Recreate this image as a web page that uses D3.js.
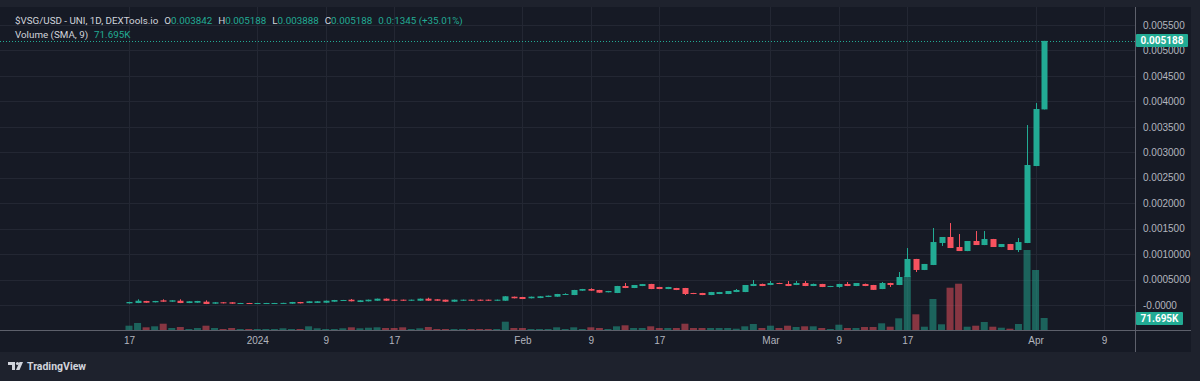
<!DOCTYPE html>
<html>
<head>
<meta charset="utf-8">
<script src="https://cdn.jsdelivr.net/npm/d3@7"></script>
<style>
  body { margin: 0; background: #1e222d; }
  svg { display: block; font-family: Roboto, "Noto Sans", sans-serif; }
</style>
</head>
<body>
<svg id="chart" width="1200" height="381"></svg>
<script>
/// Daily candles from 17 Dec 2023 to 2 Apr 2024, prices in millionths of a dollar
var firstDay = Date.UTC(2023, 11, 17);
var opens = [33,39,79,53,92,65,84,39,45,65,26,53,53,26,39,26,26,28,30,26,59,39,41,45,65,84,104,59,
  73,84,124,104,104,84,84,124,112,104,65,84,104,104,104,84,84,163,157,132,137,157,163,202,196,281,314,295,250,
  236,373,334,373,413,354,314,334,334,236,236,196,216,216,255,255,373,413,393,432,413,393,432,373,413,354,354,413,373,413,393,314,432,
  393,550,904,688,786,1218,1336,1139,1060,1257,1178,1296,1139,1198,1080,1218,2730,3842];
var highs = [63,112,82,81,112,94,112,75,81,92,55,57,55,41,41,41,41,41,43,61,61,75,77,86,100,100,118,94,
  106,126,128,106,106,106,126,143,114,106,106,106,106,106,106,106,173,165,159,165,173,185,218,230,297,316,328,297,277,
  375,432,393,413,415,356,356,336,336,238,238,257,257,275,314,393,491,420,471,436,471,471,471,420,415,375,415,452,432,420,395,452,436,
  648,1119,906,806,1512,1336,1610,1394,1257,1453,1453,1298,1198,1200,1316,3535,3967,5188];
var lows = [30,37,43,51,63,63,37,37,43,18,24,31,24,24,24,24,24,24,26,24,31,37,39,43,63,82,71,57,
  71,82,82,82,82,82,82,82,82,63,63,82,82,82,82,82,82,130,116,130,135,155,161,200,194,279,279,240,248,
  234,332,332,371,312,312,312,293,196,214,194,194,214,214,253,253,371,371,391,411,371,391,371,371,352,352,340,371,371,371,295,312,354,
  391,548,648,686,784,1159,1119,1060,1058,1178,1176,1139,1137,1080,1040,1216,2728,3842];
var closes = [59,84,45,79,65,92,39,73,79,20,53,33,26,39,26,39,39,39,41,59,33,73,73,84,98,98,73,92,
  104,124,84,84,84,104,124,84,84,65,104,104,84,84,84,104,171,132,118,163,171,183,216,216,295,314,281,242,275,
  373,334,393,411,314,314,354,295,216,216,196,255,255,275,295,393,413,373,432,413,373,432,373,413,354,373,413,373,432,373,297,432,393,
  550,904,688,806,1237,1336,1119,1060,1257,1178,1296,1139,1198,1080,1237,2750,3850,5188];
/// Volume in thousands
var volumes = [25.7,41.8,16.1,22.1,37.6,12.0,17.9,6.0,12.0,25.7,12.0,6.0,12.0,6.0,6.0,6.0,6.0,6.0,10.2,6.0,6.0,22.1,10.2,6.0,6.0,10.2,16.1,10.2,
  13.7,16.1,12.0,12.0,16.1,6.0,10.2,17.9,6.0,6.0,6.0,6.0,6.0,6.0,6.0,6.0,49.6,12.0,12.0,6.0,6.0,6.0,16.1,6.0,16.1,6.0,16.1,12.0,6.0,
  22.1,28.1,12.0,12.0,22.1,12.0,12.0,12.0,37.6,12.0,12.0,12.0,12.0,12.0,7.8,22.1,35.9,12.0,25.7,12.0,25.7,17.9,22.1,22.1,12.0,6.0,31.7,12.0,12.0,17.9,17.9,40.0,19.7,
  69.9,322.7,93.8,19.7,185.2,34.1,252.7,276.6,19.7,25.7,47.8,19.7,13.7,7.8,35.9,478.0,358.5,71.7];

var priceTicks = [0, 500, 1000, 1500, 2000, 2500, 3000, 3500, 4000, 4500, 5000, 5500];
var priceTickLabels = ["-0.0000", "0.0005000", "0.0010000", "0.001500", "0.002000", "0.002500",
  "0.003000", "0.003500", "0.004000", "0.004500", "0.005000", "0.005500"];
var dateTicks = ["2023-12-17", "2024-01-01", "2024-01-09", "2024-01-17", "2024-02-01", "2024-02-09",
  "2024-02-17", "2024-03-01", "2024-03-09", "2024-03-17", "2024-04-01", "2024-04-09"];
var dateTickLabels = ["17", "2024", "9", "17", "Feb", "9", "17", "Mar", "9", "17", "Apr", "9"];
var legendLabels = ["O", "H", "L", "C", ""];
var legendValues = ["0.003842", "0.005188", "0.003888", "0.005188", "0.0:1345 (+35.01%)"];
var lastPrice = 5188;
var lastVolumeLabel = "71.695K";

/// layout
var plotRight = 1135, plotTop = 7, plotBottom = 330, axisBottom = 352, frameRight = 1191;
var green = "#22ab94", red = "#f7525f", gridColor = "#232733", textColor = "#b2b5be";

var data = opens.map(function(o, i) {
  return { date: new Date(firstDay + i * 864e5), open: o, high: highs[i], low: lows[i], close: closes[i], volume: volumes[i] };
});

var svg = d3.select("#chart");

/// chart frame
svg.append("rect").attr("x", 0).attr("y", plotTop).attr("width", frameRight).attr("height", axisBottom - plotTop)
  .attr("fill", "#161a25");

var x = d3.scaleUtc()
  .domain([new Date(firstDay), new Date(Date.UTC(2024, 3, 9))])
  .range([129, 1104]);
var y = d3.scaleLinear().domain([0, 5500]).range([305, 25]);
var yVol = d3.scaleLinear().domain([0, d3.max(volumes)]).range([plotBottom, plotBottom - 80]);

var parseDay = d3.utcParse("%Y-%m-%d");

/// grid lines
svg.append("g").selectAll("line").data(priceTicks).enter().append("line")
  .attr("x1", 0).attr("x2", plotRight)
  .attr("y1", d => Math.round(y(d)) + 0.5).attr("y2", d => Math.round(y(d)) + 0.5)
  .attr("stroke", gridColor);
svg.append("g").selectAll("line").data(dateTicks).enter().append("line")
  .attr("x1", d => Math.round(x(parseDay(d))) + 0.5).attr("x2", d => Math.round(x(parseDay(d))) + 0.5)
  .attr("y1", plotTop).attr("y2", plotBottom)
  .attr("stroke", gridColor);

/// volume bars
svg.append("g").selectAll("rect").data(data).enter().append("rect")
  .attr("x", d => x(d.date) - 3.5)
  .attr("width", 7)
  .attr("y", d => yVol(d.volume))
  .attr("height", d => plotBottom - yVol(d.volume))
  .attr("fill", d => d.close >= d.open ? green : red)
  .attr("fill-opacity", 0.5);

/// last price line
svg.append("line")
  .attr("x1", 0).attr("x2", plotRight)
  .attr("y1", Math.round(y(lastPrice)) + 0.5).attr("y2", Math.round(y(lastPrice)) + 0.5)
  .attr("stroke", green).attr("stroke-dasharray", "1,2");

/// candles
var candles = svg.append("g").selectAll("g").data(data).enter().append("g");
candles.append("line")
  .attr("x1", d => Math.round(x(d.date)) + 0.5).attr("x2", d => Math.round(x(d.date)) + 0.5)
  .attr("y1", d => y(d.high)).attr("y2", d => y(d.low))
  .attr("stroke", d => d.close >= d.open ? green : red);
candles.append("rect")
  .attr("x", d => Math.round(x(d.date)) - 2.5)
  .attr("width", 6)
  .attr("y", d => y(Math.max(d.open, d.close)))
  .attr("height", d => Math.max(1, Math.abs(y(d.open) - y(d.close))))
  .attr("fill", d => d.close >= d.open ? green : red);

/// axes
var rightAxis = d3.axisRight(y).tickValues(priceTicks).tickFormat((d, i) => priceTickLabels[i]).tickSize(0).tickPadding(8);
var gy = svg.append("g").attr("transform", `translate(${plotRight},0)`).call(rightAxis);
gy.select(".domain").remove();
gy.selectAll("text").attr("fill", textColor).attr("font-size", 10).attr("font-family", null);

var bottomAxis = d3.axisBottom(x).tickValues(dateTicks.map(parseDay)).tickFormat((d, i) => dateTickLabels[i]).tickSize(0).tickPadding(7);
var gx = svg.append("g").attr("transform", `translate(0,${plotBottom})`).call(bottomAxis);
gx.select(".domain").remove();
gx.selectAll("text").attr("fill", textColor).attr("font-size", 10).attr("font-family", null);

svg.append("line").attr("x1", 0).attr("x2", frameRight).attr("y1", plotBottom + 0.5).attr("y2", plotBottom + 0.5).attr("stroke", "#5d606b");
svg.append("line").attr("x1", plotRight + 0.5).attr("x2", plotRight + 0.5).attr("y1", plotTop).attr("y2", axisBottom).attr("stroke", "#5d606b");

/// price and volume labels on the axis
svg.append("rect").attr("x", plotRight + 1).attr("y", y(lastPrice) - 7).attr("width", 52).attr("height", 13).attr("rx", 1).attr("fill", green);
svg.append("text").attr("x", plotRight + 27).attr("y", y(lastPrice) + 3.5).attr("text-anchor", "middle")
  .attr("fill", "#fff").attr("font-size", 10).attr("font-weight", "bold").text(d3.format(".6f")(lastPrice / 1e6));
svg.append("rect").attr("x", plotRight + 1).attr("y", yVol(volumes[volumes.length - 1]) - 6).attr("width", 47).attr("height", 13).attr("rx", 1).attr("fill", green);
svg.append("text").attr("x", plotRight + 24.5).attr("y", yVol(volumes[volumes.length - 1]) + 4).attr("text-anchor", "middle")
  .attr("fill", "#fff").attr("font-size", 10).attr("font-weight", "bold").text(lastVolumeLabel);

/// legend
var legend = svg.append("text").attr("x", 15).attr("y", 24).attr("font-size", 9.8).attr("fill", "#d1d4dc");
legend.append("tspan").text("$VSG/USD - UNI, 1D, DEXTools.io");
legendLabels.forEach(function(lab, i) {
  if (lab) legend.append("tspan").attr("dx", 6).text(lab);
  legend.append("tspan").attr("dx", lab ? 0 : 6).attr("fill", green).text(legendValues[i]);
});
var legend2 = svg.append("text").attr("x", 15).attr("y", 38).attr("font-size", 9.8).attr("fill", "#d1d4dc");
legend2.append("tspan").text("Volume (SMA, 9)");
legend2.append("tspan").attr("dx", 6).attr("fill", green).text(lastVolumeLabel);

/// TradingView mark
var logo = svg.append("g").attr("fill", "#d1d4dc");
logo.append("path").attr("d", "M8 362h7v8h-3v-5h-4z");
logo.append("circle").attr("cx", 17.5).attr("cy", 363.5).attr("r", 1.6);
logo.append("path").attr("d", "M16 370l3.5-8h3.5l-3.5 8z");
svg.append("text").attr("x", 27).attr("y", 370).attr("font-size", 10.5).attr("font-weight", "bold")
  .attr("fill", "#d1d4dc").text("TradingView");
</script>
</body>
</html>
